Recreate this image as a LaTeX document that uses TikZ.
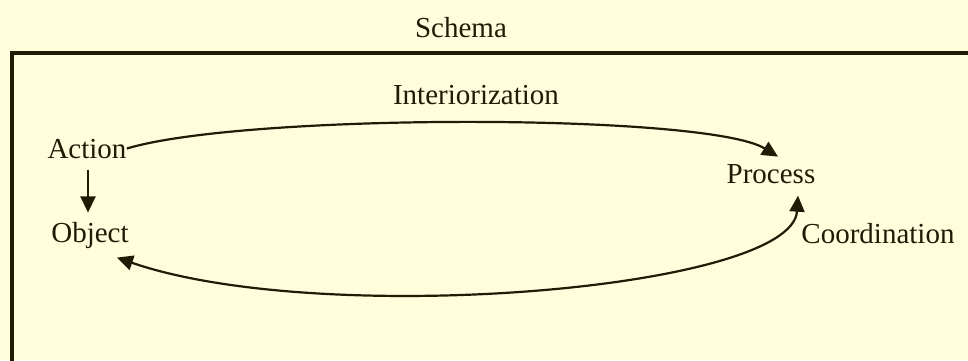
\documentclass[tikz,border=0pt]{standalone}
\usepackage{fontspec}
\setmainfont{Liberation Serif}
\usetikzlibrary{arrows.meta,calc}
\definecolor{ink}{RGB}{30,28,5}
\definecolor{paper}{RGB}{255,253,220}
\begin{document}
\begin{tikzpicture}[x=0.5pt,y=-0.5pt,
  lbl/.style={inner sep=0pt,anchor=base,text=ink,font=\fontsize{14.5}{17}\selectfont},
  tip/.style={Triangle[length=8pt,width=7.5pt]},
  conn/.style={draw=ink,line width=1.1pt,-{Triangle[length=8pt,width=7.5pt]}},
  conn2/.style={draw=ink,line width=1.1pt,{Triangle[length=8pt,width=7.5pt]}-{Triangle[length=8pt,width=7.5pt]}},
  frame/.style={draw=ink,line width=1.6pt}]
\fill[paper] (0,0) rectangle (968,360);
\useasboundingbox (0,0) rectangle (968,360);
\begin{scope}
\clip (0,0) rectangle (968,360);
\draw[frame] (12,53) rectangle (1000,400);
\end{scope}
\node[lbl] (schema) at (461,37) {Schema};
\node[lbl] (interior) at (476,104) {Interiorization};
\node[lbl] (action) at (87,158) {Action};
\node[lbl] (object) at (90,242) {Object};
\node[lbl] (process) at (771,183) {Process};
\node[lbl] (coord) at (878,243) {Coordination};
\draw[conn] (action.east) .. controls (244,113) and (707,113) .. ($(process.north)+(7,-7)$);
\draw[conn2] ($(object.south)+(27,9)$) .. controls (320,328) and (792,290) .. ($(process.south)+(27,12)$);
\draw[conn] ($(action.south)+(1,11)$) -- ($(object.north)+(-2,-9)$);
\end{tikzpicture}
\end{document}
